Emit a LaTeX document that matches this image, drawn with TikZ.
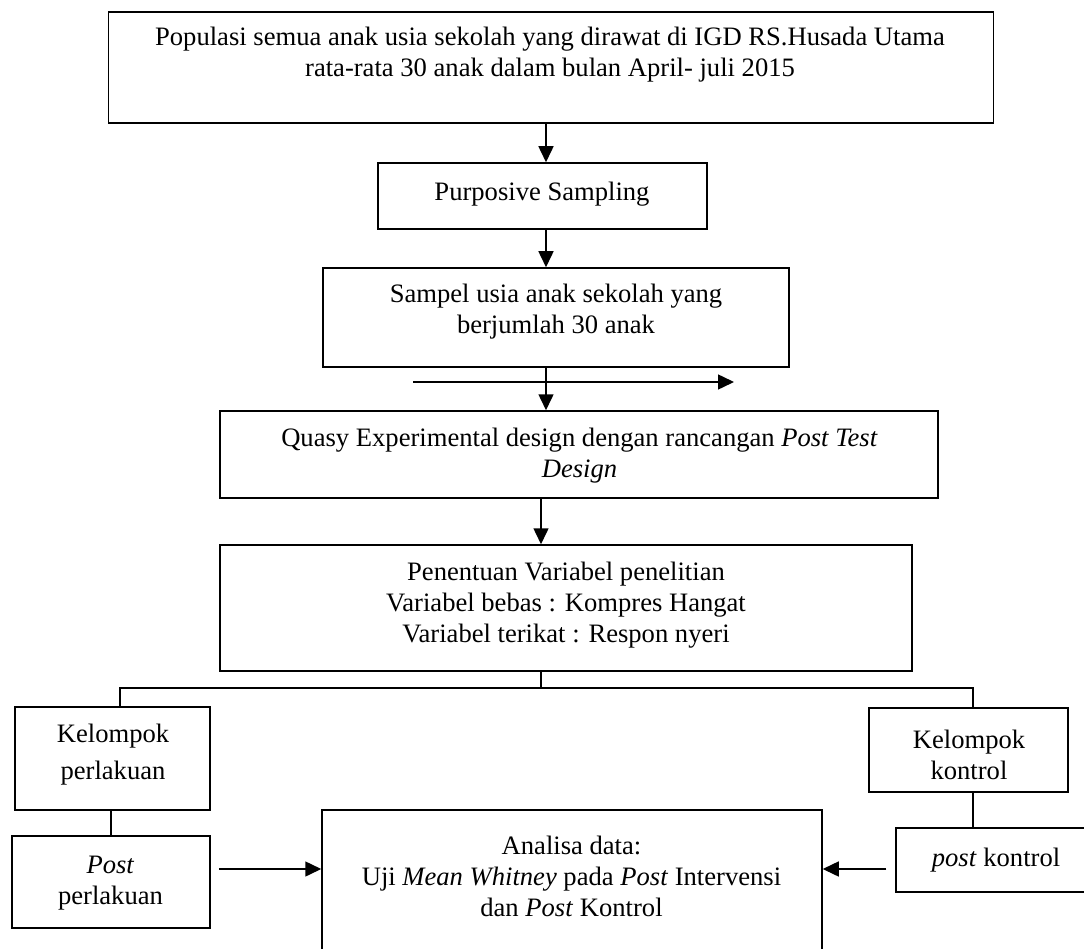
\documentclass[tikz,border=0pt]{standalone}
\usepackage{fontspec}
\setmainfont{Liberation Serif}
\usetikzlibrary{arrows.meta,positioning,calc}

\tikzset{
  kotak/.style={draw,line width=1.5pt,inner sep=0pt},
  teks/.style={align=center,inner sep=0pt,font=\fontsize{26.6}{31}\selectfont},
  garis/.style={line width=1.5pt},
  panah/.style={line width=1.5pt,-{Triangle[length=16pt,width=15pt]}}
}

\begin{document}
\begin{tikzpicture}[x=1pt,y=-1pt]
\useasboundingbox (0,0) rectangle (1084,949);
\clip (0,0) rectangle (1084,949);
% kotak-kotak
\foreach \nama/\x/\y/\w/\h in {pop/551/67.5/885/111, purposive/542.5/196/329/66,
    sampel/556/317.5/466/99, quasy/579/454.5/718/87, variabel/566/608/692/126,
    kelPerlakuan/112.5/758.5/195/103, postPerlakuan/111/882/198/92,
    kelKontrol/968.5/750/199/84, postKontrol/996/860/200/64, analisa/572/900/500/180} {
    \node[kotak,minimum width=\w pt,minimum height=\h pt] (\nama) at (\x,\y) {};
}
% isi teks
\node[teks] (tPop) at (550,55) {Populasi semua anak usia sekolah yang dirawat di IGD RS.Husada Utama\\rata-rata 30 anak dalam bulan April- juli 2015};
\node[teks] (tPurposive) at (542,194) {Purposive Sampling};
\node[teks] (tSampel) at (556,312) {Sampel usia anak sekolah yang\\berjumlah 30 anak};
\node[teks] (tQuasy) at (579.5,455.5) {Quasy Experimental design dengan rancangan \emph{Post Test}\\\emph{Design}};
\node[teks] (tVariabel) at (566,605) {Penentuan Variabel penelitian\\Variabel bebas : Kompres Hangat\\Variabel terikat : Respon nyeri};
\node[teks] (tKelPerlakuan) at (113,755) {Kelompok\\[6pt]perlakuan};
\node[teks] (tPostPerlakuan) at (110.5,883) {\emph{Post}\\perlakuan};
\node[teks] (tKelKontrol) at (969,754.5) {Kelompok\\kontrol};
\node[teks] (tPostKontrol) at (996,860) {\emph{post} kontrol};
\node[teks] (tAnalisa) at (571.5,876) {Analisa data:\\Uji \emph{Mean Whitney} pada \emph{Post} Intervensi\\dan \emph{Post} Kontrol};
% titik bantu
\coordinate (sumbu) at (546,0);
\coordinate (sumbuB) at (541,0);
\coordinate (cabang) at (541,688);
\coordinate (xKiri) at (120,0);
\coordinate (xKanan) at (973,0);
\coordinate (yPanah) at (0,869);
\coordinate (hKiri) at (413,382);
\coordinate (hKanan) at (734,382);
% panah
\draw[panah] (pop.south -| sumbu) -- (purposive.north -| sumbu);
\draw[panah] (purposive.south -| sumbu) -- (sampel.north -| sumbu);
\draw[panah] (sampel.south -| sumbu) -- (quasy.north -| sumbu);
\draw[panah] (hKiri) -- (hKanan);
\draw[panah] (quasy.south -| sumbuB) -- (variabel.north -| sumbuB);
\draw[garis] (variabel.south -| cabang) -- (cabang);
\draw[garis] (kelPerlakuan.north -| xKiri) |- (cabang) -| (kelKontrol.north -| xKanan);
\draw[garis] (kelPerlakuan.south -| postPerlakuan) -- (postPerlakuan.north);
\draw[garis] (kelKontrol.south -| xKanan) -- (postKontrol.north -| xKanan);
\draw[panah] ([xshift=8pt]postPerlakuan.east |- yPanah) -- (analisa.west |- yPanah);
\draw[panah] ([xshift=-9pt]postKontrol.west |- yPanah) -- (analisa.east |- yPanah);
\end{tikzpicture}
\end{document}
